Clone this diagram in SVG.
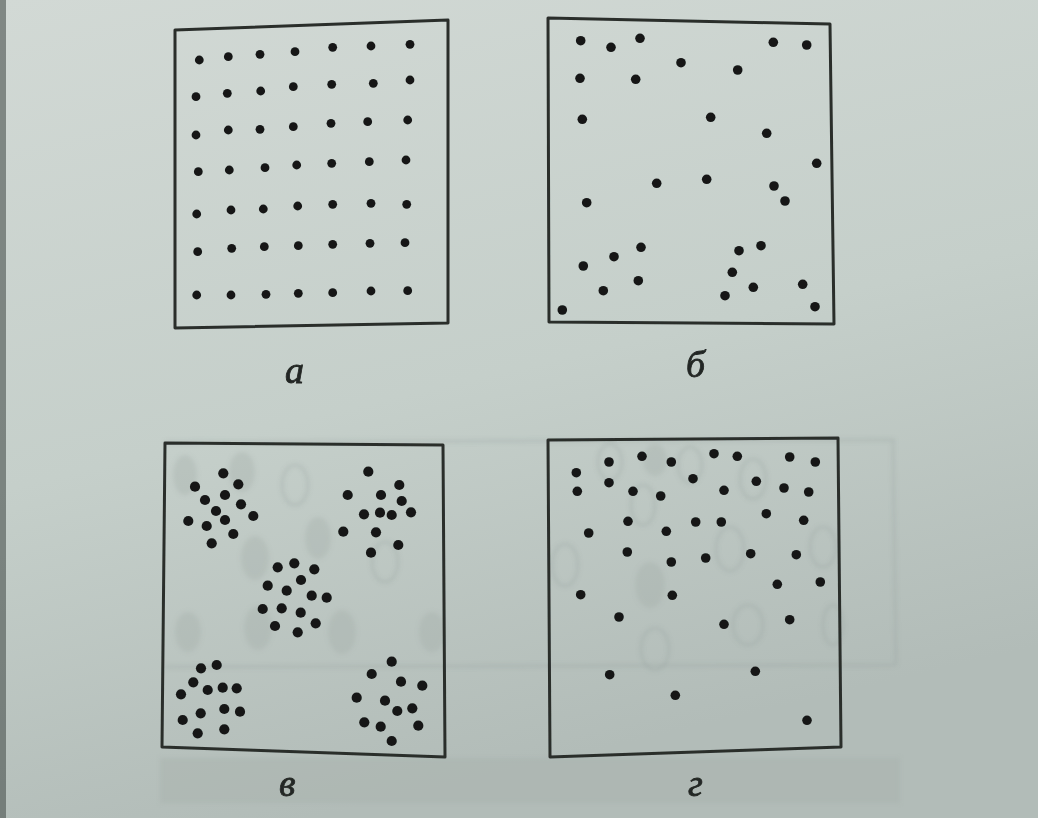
<svg xmlns="http://www.w3.org/2000/svg" width="1038" height="818" viewBox="0 0 1038 818">
<defs>
<linearGradient id="page" x1="0" y1="0" x2="0.3" y2="1">
<stop offset="0" stop-color="#d2d9d5"/>
<stop offset="0.55" stop-color="#c5cfca"/>
<stop offset="1" stop-color="#b2bcb8"/>
</linearGradient>
<filter id="soft" x="-5%" y="-5%" width="110%" height="110%"><feGaussianBlur stdDeviation="0.7"/></filter>
<filter id="ghostblur"><feGaussianBlur stdDeviation="2"/></filter>
</defs>
<style>
.frame{fill:none;stroke:#2a2e2c;stroke-width:3;stroke-linejoin:round}
.dot{fill:#161918}
.ghost{fill:#9ea8a4;opacity:0.3}
.ghostline{fill:none;stroke:#8f9995;stroke-width:2;opacity:0.38}
.lbl{font-family:"Liberation Serif","DejaVu Serif",serif;font-style:italic;font-size:38px;fill:#232725;stroke:#232725;stroke-width:0.8}
</style>
<rect x="0" y="0" width="1038" height="818" fill="url(#page)"/>
<rect x="0" y="0" width="6" height="818" fill="#4a524f" opacity="0.6"/>
<g id="bleed" filter="url(#ghostblur)">
<path class="ghostline" d="M165 442 L895 440 M165 667 L895 665 M893 440 L896 665"/>
<rect x="160" y="758" width="740" height="45" fill="#a8b2ae" opacity="0.45"/>
<ellipse class="ghost" cx="185" cy="475" rx="12" ry="20"/>
<ellipse class="ghost" cx="242" cy="472" rx="13" ry="20"/>
<ellipse class="ghostline" cx="295" cy="485" rx="13" ry="20"/>
<ellipse class="ghost" cx="318" cy="538" rx="13" ry="21"/>
<ellipse class="ghost" cx="255" cy="558" rx="14" ry="22"/>
<ellipse class="ghostline" cx="385" cy="562" rx="13" ry="20"/>
<ellipse class="ghost" cx="188" cy="632" rx="13" ry="20"/>
<ellipse class="ghost" cx="258" cy="628" rx="14" ry="22"/>
<ellipse class="ghost" cx="342" cy="632" rx="14" ry="22"/>
<ellipse class="ghost" cx="432" cy="632" rx="13" ry="20"/>
<ellipse class="ghostline" cx="610" cy="462" rx="12" ry="18"/>
<ellipse class="ghostline" cx="690" cy="465" rx="12" ry="18"/>
<ellipse class="ghostline" cx="753" cy="479" rx="13" ry="20"/>
<ellipse class="ghostline" cx="643" cy="505" rx="12" ry="20"/>
<ellipse class="ghostline" cx="730" cy="549" rx="14" ry="22"/>
<ellipse class="ghostline" cx="823" cy="547" rx="13" ry="20"/>
<ellipse class="ghostline" cx="565" cy="565" rx="13" ry="21"/>
<ellipse class="ghost" cx="650" cy="585" rx="15" ry="23"/>
<ellipse class="ghostline" cx="748" cy="625" rx="15" ry="20"/>
<ellipse class="ghostline" cx="655" cy="649" rx="14" ry="21"/>
<ellipse class="ghostline" cx="833" cy="625" rx="10" ry="20"/>
<ellipse class="ghost" cx="655" cy="460" rx="12" ry="16"/>
</g>
<g id="panel-a" filter="url(#soft)">
<path class="frame" d="M175 30 L448 20 L448 323 L175 328 Z"/>
<g class="dot">
<circle cx="199.3" cy="60" r="4.4"/><circle cx="228.3" cy="56.7" r="4.4"/><circle cx="260" cy="54.3" r="4.4"/><circle cx="295" cy="51.7" r="4.4"/><circle cx="332.7" cy="47.3" r="4.4"/><circle cx="371" cy="46" r="4.4"/><circle cx="410" cy="44.3" r="4.4"/>
<circle cx="196" cy="96.7" r="4.4"/><circle cx="227.3" cy="93.3" r="4.4"/><circle cx="260.7" cy="91" r="4.4"/><circle cx="293.3" cy="86.7" r="4.4"/><circle cx="331.7" cy="84.3" r="4.4"/><circle cx="373.3" cy="83.3" r="4.4"/><circle cx="410" cy="80" r="4.4"/>
<circle cx="196" cy="135" r="4.4"/><circle cx="228.3" cy="130" r="4.4"/><circle cx="260" cy="129.3" r="4.4"/><circle cx="293.3" cy="126.7" r="4.4"/><circle cx="331" cy="123.3" r="4.4"/><circle cx="367.7" cy="121.7" r="4.4"/><circle cx="407.7" cy="120" r="4.4"/>
<circle cx="198.3" cy="171.7" r="4.4"/><circle cx="229.3" cy="170" r="4.4"/><circle cx="265" cy="167.7" r="4.4"/><circle cx="296.7" cy="165" r="4.4"/><circle cx="331.7" cy="163.3" r="4.4"/><circle cx="369.3" cy="161.7" r="4.4"/><circle cx="406" cy="160" r="4.4"/>
<circle cx="196.7" cy="214" r="4.4"/><circle cx="231" cy="210" r="4.4"/><circle cx="263.3" cy="209" r="4.4"/><circle cx="297.7" cy="206" r="4.4"/><circle cx="332.7" cy="204.3" r="4.4"/><circle cx="371" cy="203.3" r="4.4"/><circle cx="406.7" cy="204.3" r="4.4"/>
<circle cx="197.7" cy="251.7" r="4.4"/><circle cx="231.7" cy="248.3" r="4.4"/><circle cx="264.3" cy="246.7" r="4.4"/><circle cx="298.3" cy="245.7" r="4.4"/><circle cx="332.7" cy="244.3" r="4.4"/><circle cx="370" cy="243.3" r="4.4"/><circle cx="405" cy="242.7" r="4.4"/>
<circle cx="196.7" cy="295" r="4.4"/><circle cx="231" cy="295" r="4.4"/><circle cx="266" cy="294.3" r="4.4"/><circle cx="298.3" cy="293.3" r="4.4"/><circle cx="332.7" cy="292.7" r="4.4"/><circle cx="371" cy="291" r="4.4"/><circle cx="407.7" cy="290.7" r="4.4"/>
</g>
<text class="lbl" x="285" y="383">а</text>
</g>
<g id="panel-b" filter="url(#soft)">
<path class="frame" d="M548 18 L830 24 L834 324 L549 322 Z"/>
<g class="dot">
<circle cx="580.7" cy="40.7" r="4.8"/><circle cx="611" cy="47.3" r="4.8"/><circle cx="640" cy="38.3" r="4.8"/><circle cx="773.3" cy="42.3" r="4.8"/><circle cx="806.7" cy="45" r="4.8"/>
<circle cx="681" cy="62.7" r="4.8"/><circle cx="737.7" cy="70" r="4.8"/><circle cx="580" cy="78.3" r="4.8"/><circle cx="635.7" cy="79.3" r="4.8"/>
<circle cx="582.3" cy="119.3" r="4.8"/><circle cx="710.7" cy="117.3" r="4.8"/><circle cx="766.7" cy="133.3" r="4.8"/><circle cx="816.7" cy="163.3" r="4.8"/>
<circle cx="656.7" cy="183.3" r="4.8"/><circle cx="706.7" cy="179.3" r="4.8"/><circle cx="774" cy="186" r="4.8"/><circle cx="785" cy="201" r="4.8"/><circle cx="586.7" cy="202.7" r="4.8"/>
<circle cx="641" cy="247.3" r="4.8"/><circle cx="614" cy="256.7" r="4.8"/><circle cx="739" cy="250.7" r="4.8"/><circle cx="761" cy="245.7" r="4.8"/><circle cx="583.3" cy="266" r="4.8"/>
<circle cx="732.3" cy="272.3" r="4.8"/><circle cx="638.3" cy="280.7" r="4.8"/><circle cx="603.3" cy="290.7" r="4.8"/><circle cx="725" cy="295.7" r="4.8"/><circle cx="753.3" cy="287.3" r="4.8"/>
<circle cx="802.7" cy="284.3" r="4.8"/><circle cx="562.3" cy="310" r="4.8"/><circle cx="815" cy="306.7" r="4.8"/>
</g>
<text class="lbl" x="686" y="377">б</text>
</g>
<g id="panel-v" filter="url(#soft)">
<path class="frame" d="M165 443 L443 445 L445 757 L162 747 Z"/>
<g class="dot">
<circle cx="223.3" cy="473.3" r="5.1"/><circle cx="195" cy="486.7" r="5.1"/><circle cx="238.3" cy="484.3" r="5.1"/><circle cx="225" cy="495" r="5.1"/><circle cx="205" cy="500" r="5.1"/><circle cx="241" cy="504.3" r="5.1"/><circle cx="216" cy="511" r="5.1"/><circle cx="253.3" cy="516" r="5.1"/><circle cx="188.3" cy="521" r="5.1"/><circle cx="225" cy="520" r="5.1"/><circle cx="206.7" cy="526" r="5.1"/><circle cx="233.3" cy="534" r="5.1"/><circle cx="211.7" cy="543.3" r="5.1"/>
<circle cx="368.3" cy="471.7" r="5.1"/><circle cx="399.3" cy="485" r="5.1"/><circle cx="347.7" cy="495" r="5.1"/><circle cx="381" cy="495" r="5.1"/><circle cx="401.7" cy="501" r="5.1"/><circle cx="364" cy="514.3" r="5.1"/><circle cx="380" cy="512.7" r="5.1"/><circle cx="391.7" cy="515" r="5.1"/><circle cx="411" cy="512.3" r="5.1"/><circle cx="343.3" cy="531.7" r="5.1"/><circle cx="376" cy="532.3" r="5.1"/><circle cx="398.3" cy="545" r="5.1"/><circle cx="371" cy="552.7" r="5.1"/>
<circle cx="277.7" cy="567.3" r="5.1"/><circle cx="294.3" cy="563.3" r="5.1"/><circle cx="314.3" cy="569.3" r="5.1"/><circle cx="301" cy="580" r="5.1"/><circle cx="267.7" cy="585.7" r="5.1"/><circle cx="286.7" cy="590.7" r="5.1"/><circle cx="311.7" cy="595.7" r="5.1"/><circle cx="326.7" cy="597.7" r="5.1"/><circle cx="262.7" cy="609" r="5.1"/><circle cx="281.7" cy="608.3" r="5.1"/><circle cx="300.7" cy="612.7" r="5.1"/><circle cx="275" cy="626" r="5.1"/><circle cx="315.7" cy="623.3" r="5.1"/><circle cx="297.7" cy="632.3" r="5.1"/>
<circle cx="201" cy="668.3" r="5.1"/><circle cx="216.7" cy="665" r="5.1"/><circle cx="193.3" cy="682.3" r="5.1"/><circle cx="207.7" cy="690" r="5.1"/><circle cx="222.7" cy="687.7" r="5.1"/><circle cx="236.7" cy="688.3" r="5.1"/><circle cx="181" cy="694.3" r="5.1"/><circle cx="224.3" cy="709" r="5.1"/><circle cx="240" cy="711.7" r="5.1"/><circle cx="200.7" cy="713.3" r="5.1"/><circle cx="182.7" cy="720" r="5.1"/><circle cx="197.7" cy="733.3" r="5.1"/><circle cx="224.3" cy="729.3" r="5.1"/>
<circle cx="391.7" cy="661.7" r="5.1"/><circle cx="371.7" cy="674" r="5.1"/><circle cx="401" cy="681.7" r="5.1"/><circle cx="422.3" cy="685.7" r="5.1"/><circle cx="356.7" cy="697.7" r="5.1"/><circle cx="385" cy="700.7" r="5.1"/><circle cx="412.3" cy="708.3" r="5.1"/><circle cx="397.3" cy="711" r="5.1"/><circle cx="364.3" cy="722.3" r="5.1"/><circle cx="380.7" cy="726.7" r="5.1"/><circle cx="418.3" cy="725.7" r="5.1"/><circle cx="391.7" cy="741" r="5.1"/>
</g>
<text class="lbl" x="279" y="796">в</text>
</g>
<g id="panel-g" filter="url(#soft)">
<path class="frame" d="M548 440 L838 438 L841 747 L550 757 Z"/>
<g class="dot">
<circle cx="576.3" cy="472.7" r="4.8"/><circle cx="609" cy="462" r="4.8"/><circle cx="642" cy="456.3" r="4.8"/><circle cx="671.3" cy="462" r="4.8"/><circle cx="714" cy="453.7" r="4.8"/><circle cx="737.3" cy="456.3" r="4.8"/><circle cx="789.7" cy="457" r="4.8"/><circle cx="815.3" cy="462" r="4.8"/>
<circle cx="577.3" cy="491.3" r="4.8"/><circle cx="609" cy="482.7" r="4.8"/><circle cx="633" cy="491.3" r="4.8"/><circle cx="660.7" cy="496" r="4.8"/><circle cx="693" cy="478.7" r="4.8"/><circle cx="724" cy="490.3" r="4.8"/><circle cx="756.3" cy="481.3" r="4.8"/><circle cx="784" cy="488" r="4.8"/><circle cx="808.7" cy="492" r="4.8"/>
<circle cx="628" cy="521.3" r="4.8"/><circle cx="695.7" cy="522" r="4.8"/><circle cx="721.3" cy="522" r="4.8"/><circle cx="766.3" cy="513.7" r="4.8"/><circle cx="803.7" cy="520.3" r="4.8"/>
<circle cx="588.7" cy="533" r="4.8"/><circle cx="666.3" cy="531.3" r="4.8"/><circle cx="627.3" cy="552" r="4.8"/><circle cx="671.3" cy="562" r="4.8"/><circle cx="705.7" cy="558" r="4.8"/><circle cx="750.7" cy="553.7" r="4.8"/><circle cx="796.3" cy="554.7" r="4.8"/>
<circle cx="777.3" cy="584.3" r="4.8"/><circle cx="820.3" cy="582" r="4.8"/><circle cx="580.7" cy="594.7" r="4.8"/><circle cx="672.3" cy="595.3" r="4.8"/><circle cx="619" cy="617" r="4.8"/><circle cx="724" cy="624.3" r="4.8"/><circle cx="789.7" cy="619.7" r="4.8"/>
<circle cx="609.7" cy="674.7" r="4.8"/><circle cx="755.3" cy="671.3" r="4.8"/><circle cx="675.3" cy="695.3" r="4.8"/><circle cx="807" cy="720.3" r="4.8"/>
</g>
<text class="lbl" x="688" y="796">г</text>
</g>
</svg>
